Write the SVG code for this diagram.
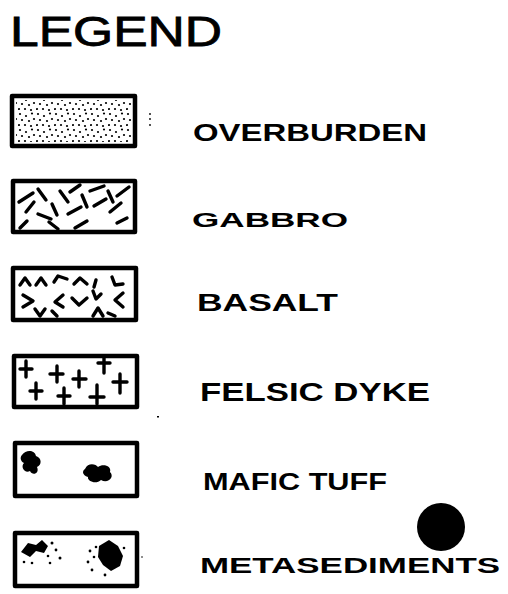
<svg xmlns="http://www.w3.org/2000/svg" width="508" height="594" viewBox="0 0 508 594">
<style>
.box{fill:#fff;stroke:#000;stroke-width:4.5;stroke-linejoin:round}
.lbl{font-family:"Liberation Sans",Arial,sans-serif;font-weight:bold;fill:#000}
.mk{stroke:#000;stroke-width:3.4;stroke-linecap:round;stroke-linejoin:round;fill:none}
.dot{fill:#000}
</style>
<defs>
<pattern id="stip" width="18" height="16" patternUnits="userSpaceOnUse">
<circle cx="2" cy="2" r="1.1"/><circle cx="8" cy="4" r="1.1"/><circle cx="14" cy="1.5" r="1.1"/>
<circle cx="4" cy="8" r="1.1"/><circle cx="11" cy="9" r="1.1"/><circle cx="16" cy="7" r="1.1"/>
<circle cx="1" cy="13" r="1.1"/><circle cx="7" cy="13" r="1.1"/><circle cx="13" cy="14" r="1.1"/>
</pattern>
</defs>
<g id="title"><text x="10" y="46" font-family="Liberation Sans, Arial, sans-serif" font-size="42" stroke="#000" stroke-width="0.8" fill="#000" textLength="212" lengthAdjust="spacingAndGlyphs">LEGEND</text></g>

<g id="overburden">
<rect class="box" x="12" y="96" width="123" height="50"/>
<rect x="16" y="100" width="115" height="42" fill="url(#stip)"/>
<circle class="dot" cx="150" cy="114" r="0.9"/><circle class="dot" cx="150" cy="119" r="0.9"/><circle class="dot" cx="150" cy="125" r="0.9"/>
<text class="lbl" x="193" y="141" font-size="24" textLength="234" lengthAdjust="spacingAndGlyphs">OVERBURDEN</text>
</g>

<g id="gabbro">
<rect class="box" x="13" y="181" width="122" height="51"/>
<g class="mk">
<path d="M19 202 L33 193"/><path d="M38 189 L46 200"/><path d="M26 212 L34 202"/><path d="M38 214 L51 219"/>
<path d="M52 204 L57 215"/><path d="M60 191 L68 202"/><path d="M70 192 L80 185"/><path d="M68 214 L81 207"/>
<path d="M82 195 L87 207"/><path d="M90 191 L104 186"/><path d="M94 206 L106 199"/><path d="M108 191 L113 202"/>
<path d="M110 212 L121 203"/><path d="M117 196 L129 187"/><path d="M20 228 L27 221"/><path d="M49 222 L58 229"/>
<path d="M75 228 L87 221"/><path d="M117 223 L127 218"/>
</g>
<text class="lbl" x="192" y="227" font-size="20" textLength="156" lengthAdjust="spacingAndGlyphs">GABBRO</text>
</g>

<g id="basalt">
<rect class="box" x="13" y="268" width="123" height="52"/>
<g class="mk">
<path d="M20 285 L25 278 L30 285"/><path d="M36 285 L41 278 L46 285"/><path d="M54 282 L58 276 L67 279"/>
<path d="M74 284 L80 278 L87 284"/><path d="M94 287 L96 280"/><path d="M112 277 L115 285 L123 284"/>
<path d="M23 295 L33 301 L23 307"/><path d="M63 295 L55 302 L63 307"/><path d="M72 298 L79 305 L87 298"/>
<path d="M93 291 L96 299 L101 294"/><path d="M123 293 L115 300 L123 307"/>
<path d="M35 309 L40 316 L45 309"/><path d="M52 311 L57 316"/><path d="M93 316 L98 308 L103 316"/><path d="M108 313 L115 316"/>
</g>
<text class="lbl" x="197" y="311" font-size="24" textLength="141" lengthAdjust="spacingAndGlyphs">BASALT</text>
</g>

<g id="felsic">
<rect class="box" x="14" y="356" width="123" height="51"/>
<g class="mk">
<path d="M26 361 V377 M20 369 H32"/><path d="M57 366 V382 M50 374 H63"/><path d="M79 371 V387 M73 379 H86"/>
<path d="M104 356 V373 M98 363 H110"/><path d="M36 383 V399 M30 391 H42"/><path d="M64 388 V404 M58 396 H70"/>
<path d="M97 385 V404 M90 397 H104"/><path d="M120 374 V393 M113 382 H127"/>
</g>
<rect x="157" y="416" width="2" height="1.5" fill="#000"/>
<text class="lbl" x="200" y="401" font-size="26" textLength="230" lengthAdjust="spacingAndGlyphs">FELSIC DYKE</text>
</g>

<g id="mafic">
<rect class="box" x="15" y="443" width="122" height="53"/>
<path d="M22 455 C26 449 35 450 36 456 C42 458 42 465 37 467 C40 474 32 476 30 471 C25 474 20 467 24 463 C20 461 20 457 22 455 Z" fill="#000"/>
<path d="M85 469 C88 462 96 464 98 467 C103 463 112 466 110 472 C115 477 108 484 101 480 C96 485 87 481 88 477 C82 475 82 471 85 469 Z" fill="#000"/>
<text class="lbl" x="203" y="490" font-size="24" textLength="184" lengthAdjust="spacingAndGlyphs">MAFIC TUFF</text>
</g>

<g id="dot"><circle cx="441" cy="527" r="24" fill="#000"/></g>

<g id="metasediments">
<rect class="box" x="15" y="533" width="122" height="53"/>
<path d="M21 552 L28 543 L36 545 L42 540 L48 546 L44 553 L36 551 L30 557 Z" fill="#000"/>
<path d="M99 546 L109 540 L118 546 L123 556 L120 566 L111 571 L103 565 L98 557 Z" fill="#000"/>
<g class="dot">
<circle cx="52" cy="543" r="1.5"/><circle cx="56" cy="550" r="1.4"/><circle cx="48" cy="556" r="1.3"/><circle cx="60" cy="558" r="1.5"/>
<circle cx="24" cy="562" r="1.3"/><circle cx="32" cy="563" r="1.3"/><circle cx="50" cy="563" r="1.3"/>
<circle cx="90" cy="551" r="1.4"/><circle cx="88" cy="562" r="1.4"/><circle cx="94" cy="557" r="1.3"/><circle cx="92" cy="570" r="1.4"/>
<circle cx="96" cy="547" r="1.3"/><circle cx="124" cy="548" r="1.3"/><circle cx="105" cy="575" r="1.4"/><circle cx="142" cy="557" r="0.8"/>
</g>
<text class="lbl" x="200" y="573" font-size="22" textLength="300" lengthAdjust="spacingAndGlyphs">METASEDIMENTS</text>
</g>
</svg>
